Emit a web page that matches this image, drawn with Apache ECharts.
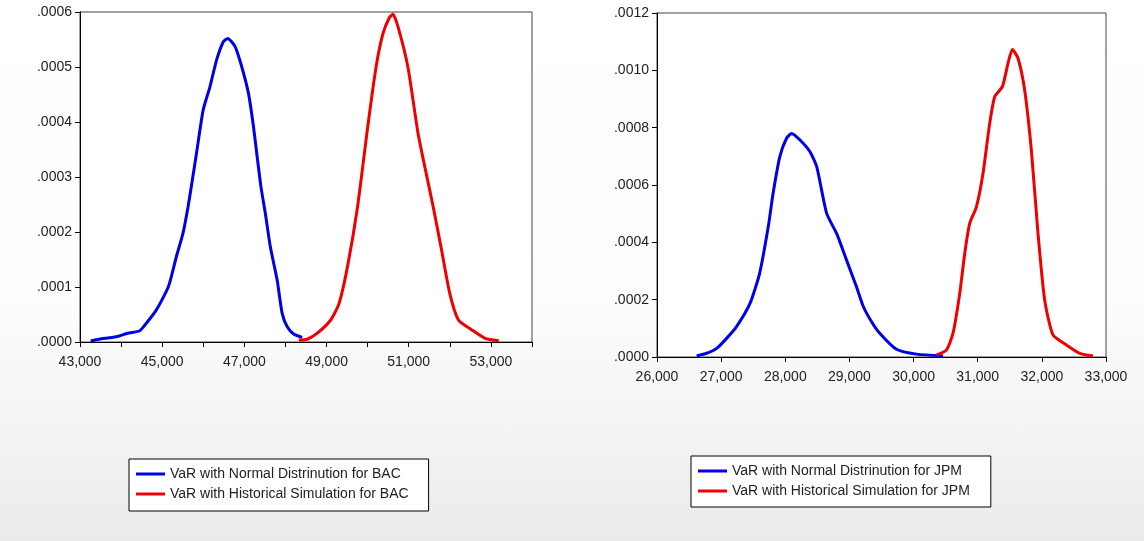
<!DOCTYPE html>
<html>
<head>
<meta charset="utf-8">
<script src="https://cdn.jsdelivr.net/npm/echarts@6/dist/echarts.min.js"></script>
<style>
html,body{margin:0;padding:0;width:1144px;height:541px;overflow:hidden;}
body{background:linear-gradient(to bottom,#ffffff 0%,#fdfdfd 55%,#ebebeb 100%);}
#c{width:1144px;height:541px;}
</style>
</head>
<body>
<div id="c"></div>
<script>
// ---- Data ----
const bacNormalX = [43260,43465,43915,44160,44445,44570,44855,45100,45180,45345,45507,45630,45735,45835,45998,46162,46325,46488,46595,46775,46938,47100,47223,47321,47404,47510,47632,47797,47920,48040,48200,48405];
const bacNormalY = [0.000002,0.000005,0.00001,0.000016,0.00002,0.00003,0.000058,0.000092,0.000107,0.000155,0.000198,0.000246,0.000295,0.000343,0.000422,0.000464,0.000513,0.000546,0.000552,0.000537,0.0005,0.000452,0.000391,0.000331,0.000282,0.000234,0.000173,0.000113,0.000052,0.000028,0.0000145,0.0000085];
const bacHistX = [48325,48530,48775,49100,49305,49510,49755,50000,50205,50370,50530,50615,50740,50980,51225,51390,51595,51800,52000,52210,52535,52860,53190];
const bacHistY = [0.0000036,0.000005,0.000016,0.00004,0.00007,0.000137,0.000246,0.00039,0.0005,0.00056,0.00059,0.000596,0.000573,0.0005,0.00038,0.000319,0.000246,0.000167,0.000088,0.00004,0.000022,0.0000067,0.0000024];
const jpmNormalX = [26618,26774,26930,27085,27240,27450,27600,27735,27810,27915,28020,28100,28230,28385,28490,28645,28800,28955,29110,29213,29340,29473,29733,30045,30460];
const jpmNormalY = [0.0000035,0.000013,0.00003,0.000065,0.000106,0.000187,0.000292,0.000455,0.000571,0.000699,0.000763,0.00078,0.000757,0.000716,0.000664,0.000501,0.000431,0.000338,0.000245,0.000178,0.000125,0.000083,0.000027,0.00001,0.0000035];
const jpmHistX = [30357,30512,30615,30720,30798,30875,30980,31083,31187,31265,31385,31472,31540,31628,31732,31836,31940,32044,32173,32382,32590,32796];
const jpmHistY = [0.000007,0.000024,0.000083,0.000222,0.000362,0.000466,0.000524,0.000641,0.000815,0.000908,0.000943,0.001024,0.001073,0.001042,0.000931,0.000722,0.000431,0.000199,0.000077,0.000042,0.000013,0.0000035];

const namesBAC = ['VaR with Normal Distrinution for BAC','VaR with Historical Simulation for BAC'];
const namesJPM = ['VaR with Normal Distrinution for JPM','VaR with Historical Simulation for JPM'];

const zip = (xs, ys) => xs.map((x, i) => [x, ys[i]]);
const BLUE = '#0000e6', RED = '#ee0000';
const txt = '#222';
const font = 'Liberation Sans, Arial, sans-serif';

const yFmt = v => v.toFixed(4).replace(/^0/, '');
const thou = v => String(Math.round(v)).replace(/\B(?=(\d{3})+(?!\d))/g, ',');

function xAxis(gi, min, max, fmt) {
  return {
    type: 'value', gridIndex: gi, min: min, max: max, interval: 1000,
    axisLine: {show: true, onZero: false, lineStyle: {color: '#000', width: 1}},
    axisTick: {show: true, length: 5, lineStyle: {color: '#000'}},
    splitLine: {show: false},
    axisLabel: {color: txt, fontSize: 14, fontFamily: font, margin: 13, formatter: fmt, showMaxLabel: true, showMinLabel: true}
  };
}
function yAxis(gi, max, interval) {
  return {
    type: 'value', gridIndex: gi, min: 0, max: max, interval: interval,
    axisLine: {show: true, lineStyle: {color: '#000', width: 1}},
    axisTick: {show: true, length: 5, lineStyle: {color: '#000'}},
    splitLine: {show: false},
    axisLabel: {color: txt, fontSize: 14, fontFamily: font, margin: 8, formatter: yFmt}
  };
}
function line(name, xi, data, color) {
  return {
    name: name, type: 'line', xAxisIndex: xi, yAxisIndex: xi, data: data,
    smooth: 0.2, showSymbol: false, symbol: 'none', animation: false,
    lineStyle: {color: color, width: 3}, itemStyle: {color: color}
  };
}
function legend(names, left, top, pad) {
  return {
    data: names, orient: 'vertical', left: left, top: top,
    icon: 'rect', itemWidth: 29, itemHeight: 3, itemGap: 4,
    padding: pad, backgroundColor: '#fff', borderColor: '#000', borderWidth: 1,
    textStyle: {color: txt, fontSize: 14, fontFamily: font, lineHeight: 16}
  };
}

const chart = echarts.init(document.getElementById('c'), null, {renderer: 'canvas'});
chart.setOption({
  animation: false,
  grid: [
    {left: 80, top: 12, width: 452, height: 330, show: true, backgroundColor: '#fff', borderColor: '#444', borderWidth: 1},
    {left: 657, top: 13, width: 449, height: 344, show: true, backgroundColor: '#fff', borderColor: '#444', borderWidth: 1}
  ],
  xAxis: [
    xAxis(0, 43000, 54000, v => (Math.round(v / 1000) % 2 === 1 && v < 54000) ? thou(v) : ''),
    xAxis(1, 26000, 33000, v => thou(v))
  ],
  yAxis: [yAxis(0, 0.0006, 0.0001), yAxis(1, 0.0012, 0.0002)],
  legend: [
    legend(namesBAC, 129, 459, [7, 20, 9, 7]),
    legend(namesJPM, 691, 456, [7, 21, 8, 7])
  ],
  series: [
    line(namesBAC[0], 0, zip(bacNormalX, bacNormalY), BLUE),
    line(namesBAC[1], 0, zip(bacHistX, bacHistY), RED),
    line(namesJPM[0], 1, zip(jpmNormalX, jpmNormalY), BLUE),
    line(namesJPM[1], 1, zip(jpmHistX, jpmHistY), RED)
  ]
});
</script>
</body>
</html>
